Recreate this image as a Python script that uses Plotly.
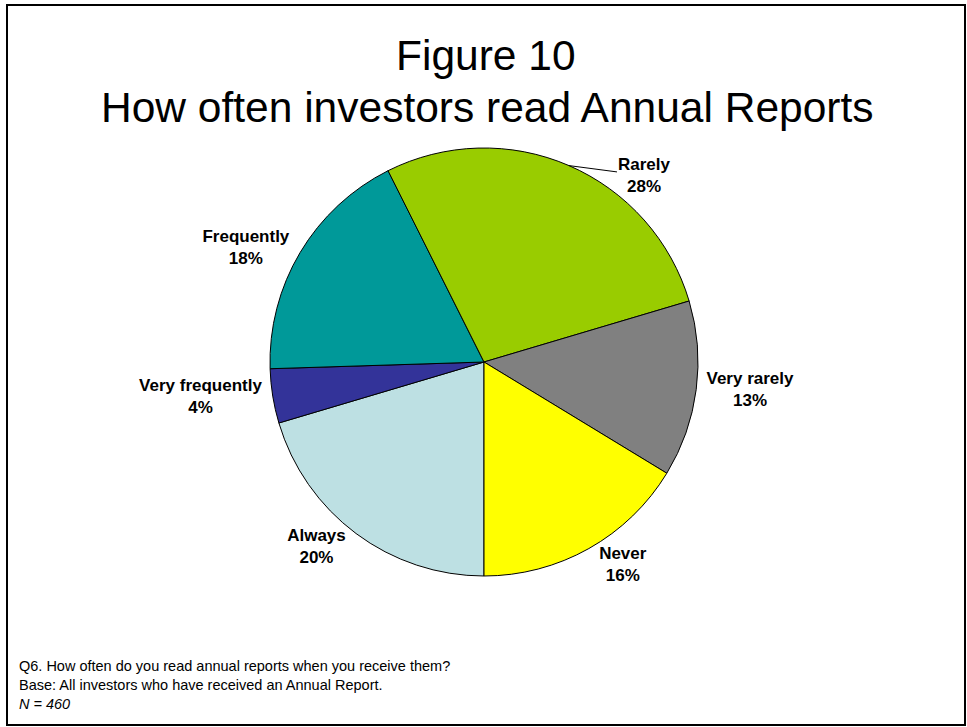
import math
import plotly.graph_objects as go

# Survey answers, listed clockwise starting from the 6 o'clock position
categories = ["Always", "Very frequently", "Frequently", "Rarely", "Very rarely", "Never"]
shares = [20.4, 4.1, 18.1, 27.8, 13.3, 16.3]
slice_colors = ["#BDE0E3", "#333399", "#009999", "#99CC00", "#808080", "#FFFF00"]

title_lines = ["Figure 10", "How often investors read Annual Reports"]
footnote_lines = [
    "Q6. How often do you read annual reports when you receive them?",
    "Base: All investors who have received an Annual Report.",
    "<i>N = 460</i>",
]

# The "Rarely" label sits off to the side with a short leader line
leader_label = "Rarely"

W, H = 967, 727
cx, cy, r = 484, 362, 214  # pie centre and radius in pixels
FONT = "Liberation Sans, Arial"

total = sum(shares)
label_text = [
    "" if c == leader_label else "<b>%{label}<br>%{percent:.0%}</b>" for c in categories
]

fig = go.Figure(
    go.Pie(
        labels=categories,
        values=shares,
        sort=False,
        direction="clockwise",
        rotation=180,
        marker=dict(colors=slice_colors, line=dict(color="black", width=1)),
        textposition="outside",
        texttemplate=label_text,
        textfont=dict(family=FONT, size=17, color="black"),
        showlegend=False,
        domain=dict(
            x=[(cx - r) / W, (cx + r) / W],
            y=[1 - (cy + r) / H, 1 - (cy - r) / H],
        ),
        automargin=False,
    )
)

# Position of the leader-line label: middle of its slice on the rim
i = categories.index(leader_label)
start = 180 + 360 * sum(shares[:i]) / total
mid = math.radians(start + 180 * shares[i] / total)
rim_x = cx + r * math.sin(mid)
rim_y = cy - r * math.cos(mid)
pct = round(100 * shares[i] / total)

annotations = [
    dict(text=title_lines[0], x=486 / W, y=1 - 55 / H, font=dict(size=42.5)),
    dict(text=title_lines[1], x=487 / W, y=1 - 107 / H, font=dict(size=42.5)),
    dict(
        text="<br>".join(footnote_lines),
        x=17 / W, y=1 - 656 / H, xanchor="left", yanchor="top", align="left",
        font=dict(size=14.5),
    ),
    dict(
        text=f"<b>{leader_label}<br>{pct}%</b>",
        x=rim_x / W, y=1 - rim_y / H,
        showarrow=True, arrowhead=0, arrowwidth=1, arrowcolor="black",
        ax=76, ay=10, standoff=0,
        font=dict(size=17),
    ),
]
for a in annotations:
    a.setdefault("xanchor", "center")
    a.setdefault("yanchor", "middle")
    a.setdefault("showarrow", False)
    a["xref"] = "paper"
    a["yref"] = "paper"
    a["font"] = dict(family=FONT, color="black", **a["font"])

fig.update_layout(
    width=W,
    height=H,
    margin=dict(l=0, r=0, t=0, b=0),
    paper_bgcolor="white",
    plot_bgcolor="white",
    annotations=annotations,
    shapes=[
        dict(
            type="rect", xref="paper", yref="paper",
            x0=7 / W, x1=965 / W, y0=1 - 725 / H, y1=1 - 5 / H,
            line=dict(color="black", width=2),
        )
    ],
)

fig.write_html("out.html")
